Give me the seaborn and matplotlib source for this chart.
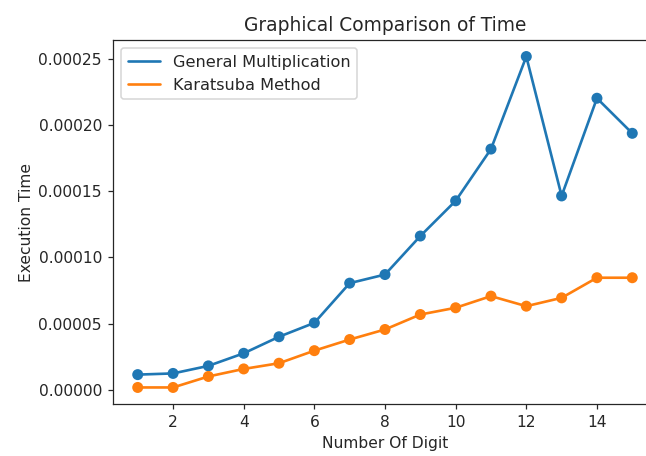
import matplotlib
matplotlib.use("Agg")
import matplotlib.pyplot as plt
import seaborn as sns
import pandas as pd

# Number of digits in the operands
digits = list(range(1, 16))

# Measured execution time (seconds) for each method
general_time = [1.14e-5, 1.23e-5, 1.80e-5, 2.75e-5, 4.00e-5, 5.05e-5, 8.05e-5, 8.70e-5,
                1.161e-4, 1.427e-4, 1.818e-4, 2.517e-4, 1.464e-4, 2.202e-4, 1.937e-4]
karatsuba_time = [1.7e-6, 1.7e-6, 1.00e-5, 1.57e-5, 2.00e-5, 2.95e-5, 3.79e-5, 4.55e-5,
                  5.68e-5, 6.19e-5, 7.07e-5, 6.31e-5, 6.94e-5, 8.46e-5, 8.46e-5]

series_names = ["General Multiplication", "Karatsuba Method"]

df = pd.DataFrame({
    "digits": digits * 2,
    "time": general_time + karatsuba_time,
    "method": [series_names[0]] * len(digits) + [series_names[1]] * len(digits),
})

sns.set_style("ticks")
plt.rcParams["font.family"] = ["DejaVu Sans"]

W, H, DPI = 646, 456, 112
fig = plt.figure(figsize=(W / DPI, H / DPI), dpi=DPI)
ax = fig.add_axes([113 / W, (H - 404) / H, (657 - 113) / W, (404 - 40) / H])

palette = {series_names[0]: "#1f77b4", series_names[1]: "#ff7f0e"}
sns.lineplot(data=df, x="digits", y="time", hue="method", palette=palette,
             linewidth=1.7, ax=ax)
sns.scatterplot(data=df, x="digits", y="time", hue="method", palette=palette,
                s=50, edgecolor="none", legend=False, ax=ax, zorder=3)

ax.set_xlim(0.3, 15.7)
ax.set_title("Graphical Comparison of Time", fontsize=12)
ax.set_xlabel("Number Of Digit", fontsize=10)
ax.set_ylabel("Execution Time", fontsize=10, labelpad=3)
ax.tick_params(labelsize=10)
ax.legend(loc="upper left", fontsize=10.4)
for name, s in ax.spines.items():
    s.set_visible(name != "right")

fig.savefig("out.png", dpi=DPI)
